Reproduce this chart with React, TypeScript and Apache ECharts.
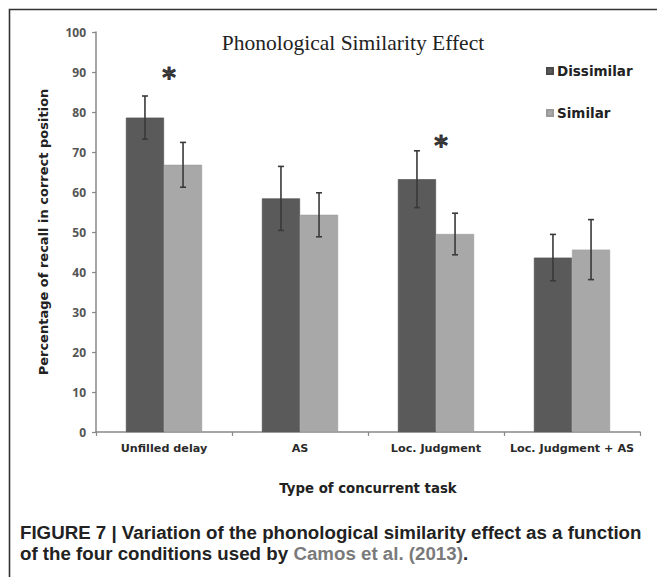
import React, { useEffect, useRef } from "react";
import * as echarts from "echarts";

const categories = ["Unfilled delay", "AS", "Loc. Judgment", "Loc. Judgment + AS"];
const dissimilar = [78.6, 58.4, 63.2, 43.6];
const similar = [66.8, 54.3, 49.5, 45.6];
const dissimilarErr = [5.4, 8.0, 7.1, 5.8];
const similarErr = [5.6, 5.5, 5.2, 7.5];
const yTicks = [0, 10, 20, 30, 40, 50, 60, 70, 80, 90, 100];
const significant = [
  [0, 90.5],
  [2, 73.5],
];

const DARK = "#5a5a5a";
const LIGHT = "#a8a8a8";
const BAR_GAP_RATIO = 0.44;

export default function App() {
  const ref = useRef<HTMLDivElement>(null);
  useEffect(() => {
    if (!ref.current) return;
    const chart = echarts.init(ref.current, undefined, { renderer: "svg" });

    const errorSeries = (vals: number[], errs: number[], side: number, name: string) => ({
      type: "custom",
      name,
      silent: true,
      z: 10,
      data: vals.map((v, i) => [i, v - errs[i], v + errs[i]]),
      renderItem: (params: any, api: any) => {
        const idx = api.value(0);
        const lo = api.coord([idx, api.value(1)]);
        const hi = api.coord([idx, api.value(2)]);
        const band = api.size([1, 0])[0];
        const barW = (band * (1 - BAR_GAP_RATIO)) / 2;
        const x = lo[0] + (side * barW) / 2;
        const cap = 3;
        const style = { stroke: "#3a3a3a", lineWidth: 1.6 };
        return {
          type: "group",
          children: [
            { type: "line", shape: { x1: x, y1: lo[1], x2: x, y2: hi[1] }, style },
            { type: "line", shape: { x1: x - cap, y1: lo[1], x2: x + cap, y2: lo[1] }, style },
            { type: "line", shape: { x1: x - cap, y1: hi[1], x2: x + cap, y2: hi[1] }, style },
          ],
        };
      },
    });

    chart.setOption({
      animation: false,
      backgroundColor: "#ffffff",
      title: {
        text: "Phonological Similarity Effect",
        left: 348,
        top: 27,
        textAlign: "center",
        textStyle: {
          fontFamily: "Liberation Serif",
          fontWeight: "normal",
          fontSize: 21.5,
          color: "#222",
        },
      },
      legend: {
        orient: "vertical",
        left: 541,
        top: 59,
        itemGap: 28,
        itemWidth: 6,
        itemHeight: 6,
        icon: "rect",
        selectedMode: false,
        data: ["Dissimilar", "Similar"],
        textStyle: {
          fontFamily: "DejaVu Sans",
          fontWeight: "bold",
          fontSize: 13.5,
          color: "#222",
          padding: [0, 0, 0, -1],
        },
      },
      grid: { left: 96, right: 17, top: 32, bottom: 145 },
      xAxis: {
        type: "category",
        data: categories,
        name: "Type of concurrent task",
        nameLocation: "middle",
        nameGap: 50,
        nameTextStyle: {
          fontFamily: "DejaVu Sans",
          fontWeight: "bold",
          fontSize: 13.3,
          color: "#222",
        },
        axisLine: { lineStyle: { color: "#888", width: 1.5 } },
        axisTick: { show: true, length: 4, lineStyle: { color: "#888", width: 1.2 } },
        axisLabel: {
          margin: 11,
          fontFamily: "DejaVu Sans",
          fontWeight: "bold",
          fontSize: 11.2,
          color: "#2a2a2a",
          interval: 0,
        },
      },
      yAxis: {
        type: "value",
        min: yTicks[0],
        max: yTicks[yTicks.length - 1],
        interval: 10,
        name: "Percentage of recall in correct position",
        nameLocation: "middle",
        nameGap: 46,
        nameTextStyle: {
          fontFamily: "DejaVu Sans",
          fontWeight: "bold",
          fontSize: 13,
          color: "#222",
        },
        splitLine: { show: false },
        axisLine: { show: true, lineStyle: { color: "#888", width: 1.5 } },
        axisTick: { show: true, length: 4, lineStyle: { color: "#888", width: 1.2 } },
        axisLabel: {
          margin: 10,
          fontFamily: "Open Sans",
          fontWeight: "bold",
          fontSize: 12,
          color: "#555",
        },
      },
      series: [
        {
          type: "bar",
          name: "Dissimilar",
          data: dissimilar,
          barGap: "0%",
          barCategoryGap: BAR_GAP_RATIO * 100 + "%",
          itemStyle: { color: DARK, borderColor: "#4a4a4a", borderWidth: 0.6 },
        },
        {
          type: "bar",
          name: "Similar",
          data: similar,
          barGap: "0%",
          barCategoryGap: BAR_GAP_RATIO * 100 + "%",
          itemStyle: { color: LIGHT, borderColor: "#9a9a9a", borderWidth: 0.6 },
        },
        errorSeries(dissimilar, dissimilarErr, -1, "errD"),
        errorSeries(similar, similarErr, 1, "errS"),
        {
          type: "scatter",
          name: "sig",
          data: significant,
          symbolSize: 0,
          silent: true,
          z: 11,
          label: {
            show: true,
            position: "inside",
            formatter: "*",
            offset: [5, 8],
            fontFamily: "DejaVu Sans",
            fontWeight: "bold",
            fontSize: 26,
            color: "#111",
            textBorderColor: "#111",
            textBorderWidth: 1,
          },
        },
      ],
      graphic: [
        {
          type: "polyline",
          shape: { points: [[9.5, 577], [9.5, 9.5], [657, 9.5]] },
          style: { stroke: "#333", lineWidth: 1.6, fill: "none" },
          silent: true,
        },
        {
          type: "text",
          x: 20,
          y: 522,
          scaleX: 0.985,
          style: {
            text: "{b|FIGURE 7 | Variation of the phonological similarity effect as a function}\n{b|of the four conditions used by }{g|Camos et al. (2013)}{b|.}",
            lineHeight: 21,
            rich: {
              b: {
                fontFamily: "Liberation Sans",
                fontWeight: "bold",
                fontSize: 19,
                lineHeight: 21,
                fill: "#222",
              },
              g: {
                fontFamily: "Liberation Sans",
                fontWeight: "bold",
                fontSize: 19,
                lineHeight: 21,
                fill: "#7a7a7a",
              },
            },
          },
          silent: true,
        },
      ],
    });
    return () => chart.dispose();
  }, []);
  return (
    <div
      ref={ref}
      style={{ position: "fixed", left: 0, top: 0, width: 657, height: 577 }}
    />
  );
}
